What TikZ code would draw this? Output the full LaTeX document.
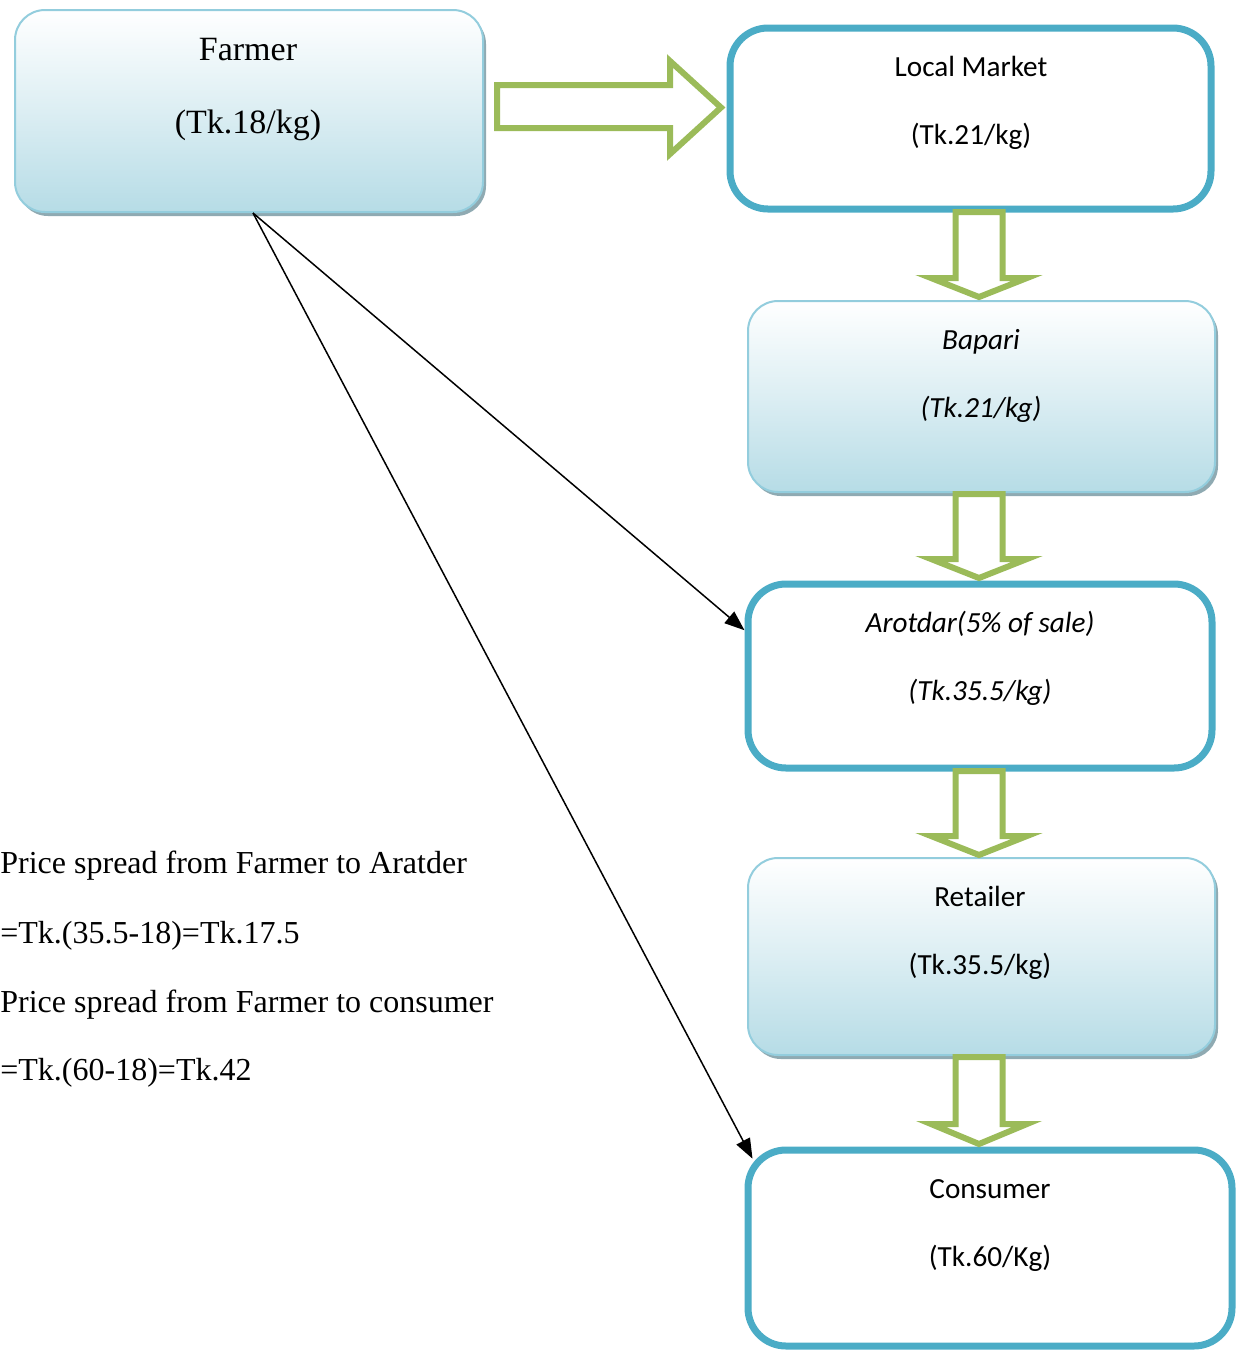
\documentclass[tikz,border=0pt]{standalone}
\usepackage{fontspec}
\setmainfont{Liberation Serif}
\newfontfamily\calibri{Carlito}
\usetikzlibrary{fit,arrows.meta,shadows}

\definecolor{accentblue}{HTML}{4BACC6}
\definecolor{paleborder}{HTML}{93CDDD}
\definecolor{gradbottom}{HTML}{B6DCE6}
\definecolor{gradmid}{HTML}{DCEEF3}
\definecolor{shadowgrey}{HTML}{8FAAB2}
\definecolor{leafgreen}{HTML}{9BBB59}

% vertical block arrow: centre x, shaft top, head base, tip
\newcommand\vblock[4]{%
  \draw[blockarrow] (#1-23.5,#2) -- (#1+23.5,#2) -- (#1+23.5,#3) -- (#1+48,#3)
    -- (#1,#4) -- (#1-48,#3) -- (#1-23.5,#3) -- cycle;}

\begin{document}
\begin{tikzpicture}[x=0.5pt,y=-0.5pt,
  softbox/.style={rectangle, rounded corners=15pt, draw=paleborder, line width=1pt,
    top color=white, bottom color=gradbottom, middle color=gradmid, inner sep=0pt,
    drop shadow={shadow xshift=1.5pt, shadow yshift=-2pt, fill=shadowgrey, opacity=1}},
  strongbox/.style={rectangle, rounded corners=19pt, draw=accentblue, line width=3.5pt,
    fill=white, inner sep=0pt},
  blockarrow/.style={draw=leafgreen, line width=3pt, fill=white},
  pointer/.style={draw=black, line width=0.75pt, -{Triangle[length=10pt, width=7.5pt]}},
  serif/.style={inner sep=0pt, anchor=base, font=\fontsize{17pt}{20pt}\selectfont},
  sans/.style={inner sep=0pt, anchor=base, font=\calibri\fontsize{14.6pt}{17pt}\selectfont},
  sansit/.style={sans, font=\calibri\itshape\fontsize{14.6pt}{17pt}\selectfont},
  note/.style={inner sep=0pt, anchor=base west, font=\fontsize{16pt}{19pt}\selectfont}]

\useasboundingbox (0,0) rectangle (1238,1351);

% boxes
\node[softbox, fit={(15,10) (483,212)}] (farmer) {};
\node[strongbox, fit={(730,28) (1211,209)}] (local) {};
\node[softbox, fit={(748,301) (1215,492)}] (bapari) {};
\node[strongbox, fit={(748,584) (1212,768)}] (arotdar) {};
\node[softbox, fit={(748,858) (1215,1055)}] (retailer) {};
\node[strongbox, fit={(748,1150) (1232,1346)}] (consumer) {};

% labels
\node[serif] (farmerName) at (248,60) {Farmer};
\node[serif] (farmerPrice) at (248,133) {(Tk.18/kg)};
\node[sans] (localName) at (971,76) {Local Market};
\node[sans] (localPrice) at (971,144) {(Tk.21/kg)};
\node[sansit] (bapariName) at (981,349) {Bapari};
\node[sansit] (bapariPrice) at (981,417) {(Tk.21/kg)};
\node[sansit] (arotdarName) at (980,632) {Arotdar(5\% of sale)};
\node[sansit] (arotdarPrice) at (980,700) {(Tk.35.5/kg)};
\node[sans] (retailerName) at (980,906) {Retailer};
\node[sans] (retailerPrice) at (980,974) {(Tk.35.5/kg)};
\node[sans] (consumerName) at (990,1198) {Consumer};
\node[sans] (consumerPrice) at (990,1266) {(Tk.60/Kg)};

% price spread notes
\node[note] (spreadA) at (0,873) {Price spread from Farmer to Aratder};
\node[note] (spreadAval) at (0,943) {=Tk.(35.5-18)=Tk.17.5};
\node[note] (spreadC) at (0,1012) {Price spread from Farmer to consumer};
\node[note] (spreadCval) at (0,1080) {=Tk.(60-18)=Tk.42};

% green block arrows
\draw[blockarrow] (497,85) -- (670,85) -- (670,61) -- (721,107.5) -- (670,154) -- (670,128) -- (497,128) -- cycle;
\vblock{979}{212}{278}{297}
\vblock{979}{494}{559}{578}
\vblock{979}{771}{836}{855}
\vblock{979}{1057}{1124}{1144}

% direct price links
\draw[pointer] ([xshift=2pt]farmer.south) -- (arotdar.169);
\draw[pointer] ([xshift=2pt]farmer.south) -- ([xshift=4pt]consumer.160);

\end{tikzpicture}
\end{document}
